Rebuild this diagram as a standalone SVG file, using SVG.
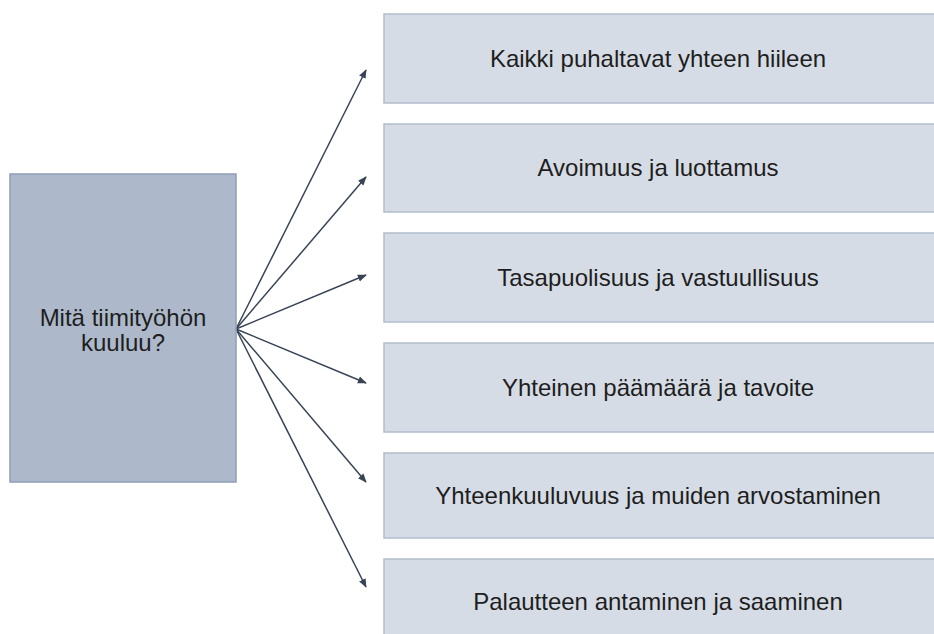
<svg xmlns="http://www.w3.org/2000/svg" width="934" height="634" viewBox="0 0 934 634">
  <defs>
    <style>
      .main { fill: #ADB9CA; stroke: #8E9FB7; stroke-width: 1.5; }
      .item { fill: #D6DCE5; stroke: #B3BDCC; stroke-width: 1.5; }
      .lbl { font-family: "Liberation Sans", Arial, sans-serif; fill: #1E1E1E; text-anchor: middle; }
      .main-lbl { font-size: 24px; }
      .item-lbl { font-size: 24px; }
      .conn { stroke: #384456; stroke-width: 1.5; fill: none; marker-end: url(#arrow); }
    </style>
    <marker id="arrow" viewBox="0 0 10 10" refX="9" refY="5" markerWidth="6" markerHeight="6" orient="auto" markerUnits="strokeWidth">
      <path d="M0,1 L10,5 L0,9 Z" fill="#384456"/>
    </marker>
  </defs>

  <g id="connectors">
    <line class="conn" x1="236" y1="329" x2="366" y2="70"/>
    <line class="conn" x1="236" y1="329" x2="366" y2="177"/>
    <line class="conn" x1="236" y1="329" x2="366" y2="275"/>
    <line class="conn" x1="236" y1="329" x2="366" y2="383"/>
    <line class="conn" x1="236" y1="329" x2="366" y2="482"/>
    <line class="conn" x1="236" y1="329" x2="366" y2="587"/>
  </g>

  <g id="node-main">
    <rect class="main" x="10" y="174" width="226" height="308"/>
    <text class="lbl main-lbl" x="123" y="326">Mitä tiimityöhön</text>
    <text class="lbl main-lbl" x="123" y="351">kuuluu?</text>
  </g>

  <g id="node-1">
    <rect class="item" x="384" y="14" width="570" height="89"/>
    <text class="lbl item-lbl" x="658" y="67">Kaikki puhaltavat yhteen hiileen</text>
  </g>
  <g id="node-2">
    <rect class="item" x="384" y="124" width="570" height="88"/>
    <text class="lbl item-lbl" x="658" y="176">Avoimuus ja luottamus</text>
  </g>
  <g id="node-3">
    <rect class="item" x="384" y="233" width="570" height="89"/>
    <text class="lbl item-lbl" x="658" y="286">Tasapuolisuus ja vastuullisuus</text>
  </g>
  <g id="node-4">
    <rect class="item" x="384" y="343" width="570" height="89"/>
    <text class="lbl item-lbl" x="658" y="396">Yhteinen päämäärä ja tavoite</text>
  </g>
  <g id="node-5">
    <rect class="item" x="384" y="453" width="570" height="85"/>
    <text class="lbl item-lbl" x="658" y="504">Yhteenkuuluvuus ja muiden arvostaminen</text>
  </g>
  <g id="node-6">
    <rect class="item" x="384" y="559" width="570" height="95"/>
    <text class="lbl item-lbl" x="658" y="610">Palautteen antaminen ja saaminen</text>
  </g>
</svg>
